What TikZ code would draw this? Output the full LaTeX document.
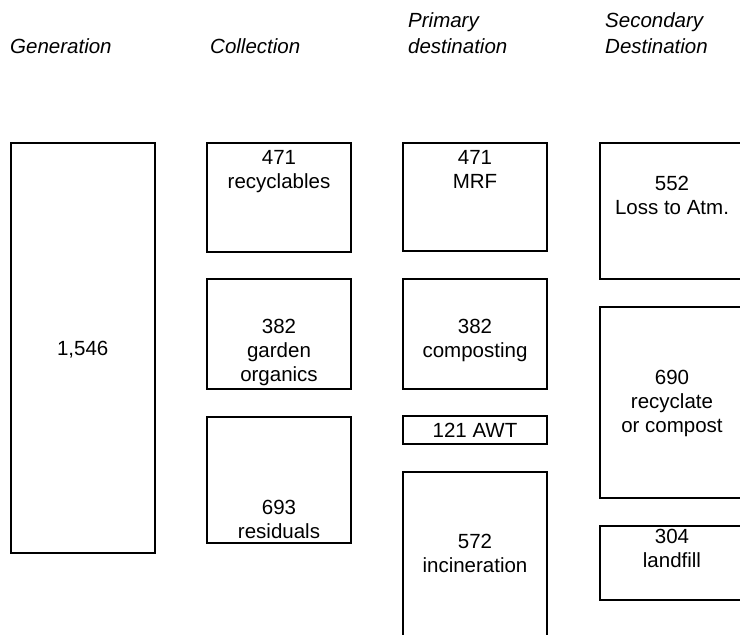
\documentclass[tikz,border=0pt]{standalone}
\usepackage{fontspec}
\setmainfont{Liberation Sans}
\usetikzlibrary{calc}
\begin{document}
\begin{tikzpicture}[x=1pt, y=-1pt,
  stage/.style={draw, line width=2pt, inner sep=0pt, outer sep=0pt, anchor=north west},
  amount/.style={font=\fontsize{20.5}{24}\selectfont, align=center, inner sep=0pt, anchor=north},
  heading/.style={font=\fontsize{20.5}{26.7}\selectfont\itshape, align=left, inner sep=0pt}]
\useasboundingbox (0,0) rectangle (740,635);
\clip (0,0) rectangle (740,635);

% column headings
\node[heading, anchor=base west] (h-gen) at (10,53.3) {Generation};
\node[heading, anchor=base west] (h-col) at (210,53.3) {Collection};
\node[heading, anchor=north west] (h-pri) at (408,12) {Primary\\destination};
\node[heading, anchor=north west] (h-sec) at (605,12) {Secondary\\Destination};

% generation
\node[stage, minimum width=143.5pt, minimum height=410pt] (gen) at (11,143) {};
\node[amount, anchor=base] (t-gen) at ($(gen.center)+(0,7)$) {1,546};

% collection
\node[stage, minimum width=144pt, minimum height=109pt] (rec) at (207,143) {};
\node[stage, minimum width=144pt, minimum height=110pt] (gar) at (207,279) {};
\node[stage, minimum width=144pt, minimum height=126pt] (res) at (207,417) {};
\node[amount] (t-rec) at ($(rec.north)+(0,7.3)$) {471\\recyclables};
\node[amount] (t-gar) at ($(gar.north)+(0,40.3)$) {382\\garden\\organics};
\node[amount] (t-res) at ($(res.north)+(0,83.3)$) {693\\residuals};

% primary destination
\node[stage, minimum width=144pt, minimum height=108pt] (mrf) at (403,143) {};
\node[stage, minimum width=144pt, minimum height=110pt] (com) at (403,279) {};
\node[stage, minimum width=144pt, minimum height=28pt] (awt) at (403,416) {};
\node[stage, minimum width=144pt, minimum height=163.5pt] (inc) at (403,472) {};
\node[amount] (t-mrf) at ($(mrf.north)+(0,7.3)$) {471\\MRF};
\node[amount] (t-com) at ($(com.north)+(0,40.3)$) {382\\composting};
\node[amount, anchor=center] (t-awt) at (awt.center) {121 AWT};
\node[amount] (t-inc) at ($(inc.north)+(0,62.3)$) {572\\incineration};

% secondary destination
\node[stage, minimum width=144pt, minimum height=136pt] (atm) at (600,143) {};
\node[stage, minimum width=144pt, minimum height=191pt] (rcy) at (600,307) {};
\node[stage, minimum width=144pt, minimum height=74pt] (lf) at (600,526) {};
\node[amount] (t-atm) at ($(atm.north)+(0,33.3)$) {552\\Loss to Atm.};
\node[amount] (t-rcy) at ($(rcy.north)+(0,63.3)$) {690\\recyclate\\or compost};
\node[amount] (t-lf) at ($(lf.north)+(0,3.3)$) {304\\landfill};
\end{tikzpicture}
\end{document}
